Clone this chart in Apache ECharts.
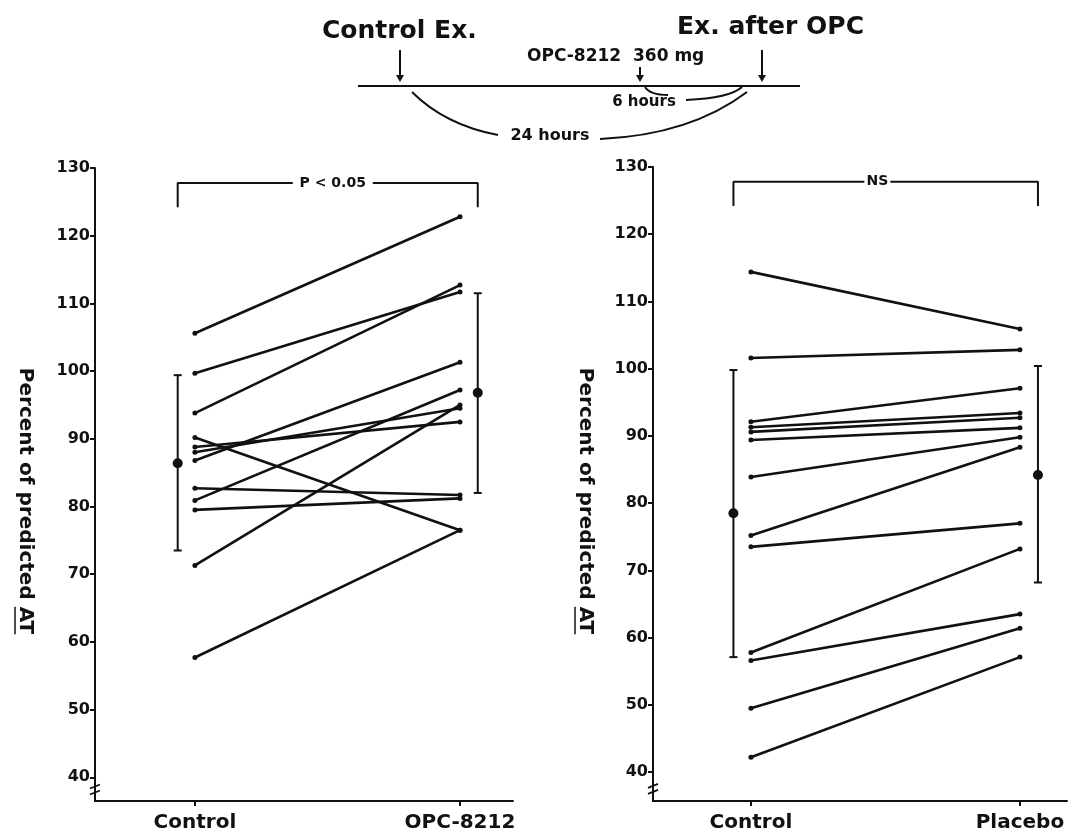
<!DOCTYPE html>
<html><head><meta charset="utf-8">
<script src="https://cdn.jsdelivr.net/npm/echarts@6/dist/echarts.min.js"></script>
<style>html,body{margin:0;padding:0;background:#fff}#chart{width:1078px;height:839px}</style>
</head><body><div id="chart"></div>
<script>
// ---------------- data ----------------
const leftCategories = ['Control', 'OPC-8212'];
const rightCategories = ['Control', 'Placebo'];
// paired subject values (percent of predicted AT)
const leftControl = [105.6, 99.7, 93.8, 90.2, 88.8, 88.0, 86.8, 82.7, 80.9, 79.5, 71.3, 57.7];
const leftOPC     = [122.8, 111.7, 112.7, 76.5, 92.5, 94.5, 101.3, 81.7, 97.2, 81.2, 95.0, 76.5];
const rightControl = [114.4, 101.6, 92.1, 91.3, 90.6, 89.4, 83.9, 75.2, 73.5, 57.8, 56.6, 49.5, 42.2];
const rightPlacebo = [105.9, 102.8, 97.1, 93.4, 92.7, 91.2, 89.8, 88.3, 77.0, 73.2, 63.5, 61.4, 57.1];
// mean, lower, upper (mean ± SD)
const leftMean  = [86.4, 96.8];
const leftLow   = [73.5, 82.0];
const leftHigh  = [99.4, 111.5];
const rightMean = [78.5, 84.2];
const rightLow  = [57.1, 68.2];
const rightHigh = [99.8, 100.4];
const yTicks = [40, 50, 60, 70, 80, 90, 100, 110, 120, 130];
const leftSignificance = 'P < 0.05';
const rightSignificance = 'NS';
const yTitle = 'Percent of predicted ';
const yTitleUnderlined = 'AT';

// ---------------- styling ----------------
const INK = '#111';
const FONT = '"DejaVu Sans", "Liberation Sans", sans-serif';
const barOffset = [-0.065, 1.067]; // horizontal shift of the mean±SD bars relative to categories
const bracketTop = 127.8, bracketFoot = 124.2;

function xAxisFor(gridIndex, cats, min, max) {
  return {
    type: 'value', gridIndex, min, max,
    axisLine: { show: true, onZero: false, lineStyle: { color: INK, width: 2 } },
    axisTick: { show: true, customValues: [0, 1], length: 5, lineStyle: { color: INK, width: 2 } },
    axisLabel: { customValues: [0, 1], formatter: v => cats[Math.round(v)], color: INK,
      fontFamily: FONT, fontWeight: 'bold', fontSize: 20, margin: 12 },
    splitLine: { show: false }
  };
}
function yAxisFor(gridIndex, min) {
  return {
    type: 'value', gridIndex, min, max: 130,
    axisLine: { show: true, onZero: false, lineStyle: { color: INK, width: 2 } },
    axisTick: { show: true, customValues: yTicks, length: 5, lineStyle: { color: INK, width: 2 } },
    axisLabel: { customValues: yTicks, color: INK, fontFamily: FONT, fontWeight: 'bold', fontSize: 16, margin: 5 },
    splitLine: { show: false }
  };
}

function pairSeries(idx, a, b) {
  return a.map((v, i) => ({
    type: 'line', xAxisIndex: idx, yAxisIndex: idx,
    data: [[0, v], [1, b[i]]],
    symbol: 'circle', symbolSize: 5, showSymbol: true,
    lineStyle: { color: INK, width: 2.6 }, itemStyle: { color: INK },
    silent: true, z: 3
  }));
}
function errorSeries(idx, mean, low, high) {
  return {
    type: 'custom', xAxisIndex: idx, yAxisIndex: idx, silent: true, z: 4,
    data: mean.map((m, i) => [barOffset[i], m, low[i], high[i]]),
    encode: { x: 0, y: [1, 2, 3] },
    renderItem(params, api) {
      const x = api.value(0);
      const pm = api.coord([x, api.value(1)]);
      const pl = api.coord([x, api.value(2)]);
      const ph = api.coord([x, api.value(3)]);
      const st = { stroke: INK, lineWidth: 2 };
      return { type: 'group', children: [
        { type: 'line', shape: { x1: ph[0], y1: ph[1], x2: pl[0], y2: pl[1] }, style: st },
        { type: 'line', shape: { x1: ph[0] - 4, y1: ph[1], x2: ph[0] + 4, y2: ph[1] }, style: st },
        { type: 'line', shape: { x1: pl[0] - 4, y1: pl[1], x2: pl[0] + 4, y2: pl[1] }, style: st },
        { type: 'circle', shape: { cx: pm[0], cy: pm[1], r: 5 }, style: { fill: INK } }
      ]};
    }
  };
}
function bracketSeries(idx, label, labelX) {
  return [{
    type: 'line', xAxisIndex: idx, yAxisIndex: idx, silent: true, symbol: 'none', z: 2,
    data: [[barOffset[0], bracketFoot], [barOffset[0], bracketTop], [barOffset[1], bracketTop], [barOffset[1], bracketFoot]],
    lineStyle: { color: INK, width: 2 }
  }, {
    type: 'scatter', xAxisIndex: idx, yAxisIndex: idx, silent: true, z: 5,
    data: [[labelX, bracketTop]], symbol: 'rect', symbolSize: [label.length * 9 + 8, 14],
    itemStyle: { color: '#fff', opacity: 1 },
    label: { show: true, position: 'inside', formatter: label, color: INK, fontFamily: FONT,
      fontWeight: 'bold', fontSize: 14, textBorderWidth: 0, opacity: 1 }
  }];
}

const chart = echarts.init(document.getElementById('chart'), null, { renderer: 'canvas' });

const option = {
  backgroundColor: '#fff',
  animation: false,
  grid: [
    { left: 95, right: 565, top: 168, bottom: 38 },
    { left: 653, right: 11, top: 167, bottom: 38 }
  ],
  xAxis: [xAxisFor(0, leftCategories, -0.377, 1.2), xAxisFor(1, rightCategories, -0.364, 1.175)],
  yAxis: [yAxisFor(0, 36.5), yAxisFor(1, 35.7)],
  series: [
    ...pairSeries(0, leftControl, leftOPC),
    ...pairSeries(1, rightControl, rightPlacebo),
    errorSeries(0, leftMean, leftLow, leftHigh),
    errorSeries(1, rightMean, rightLow, rightHigh),
    ...bracketSeries(0, leftSignificance, 0.52),
    ...bracketSeries(1, rightSignificance, 0.47)
  ]
};
chart.setOption(option);

// ---------- annotations: axis titles, axis breaks, protocol diagram ----------
const ctx = document.createElement('canvas').getContext('2d');
const titleFont = 'bold 20px ' + FONT;
ctx.font = titleFont;
const wFull = ctx.measureText(yTitle + yTitleUnderlined).width;
const wU = ctx.measureText(yTitleUnderlined).width;

function yTitleGroup(cx, cy) {
  return { type: 'group', x: cx, y: cy, rotation: -Math.PI / 2, children: [
    { type: 'text', style: { text: yTitle + yTitleUnderlined, font: titleFont, fill: INK, align: 'center', verticalAlign: 'middle' } },
    { type: 'line', shape: { x1: wFull / 2 - wU, y1: 10, x2: wFull / 2, y2: 10 }, style: { stroke: INK, lineWidth: 1.5 } }
  ]};
}
function breakGlyph(gridIndex, xMin, yVal) {
  const p = chart.convertToPixel({ gridIndex }, [xMin, yVal]);
  const x = p[0], y = p[1];
  return { type: 'group', children: [
    { type: 'rect', shape: { x: x - 3, y: y - 3, width: 6, height: 6 }, style: { fill: '#fff' } },
    { type: 'line', shape: { x1: x - 5, y1: y - 1, x2: x + 5, y2: y - 5 }, style: { stroke: INK, lineWidth: 1.8 } },
    { type: 'line', shape: { x1: x - 5, y1: y + 5, x2: x + 5, y2: y + 1 }, style: { stroke: INK, lineWidth: 1.8 } }
  ]};
}
function arrow(x, y1, y2) {
  return { type: 'group', children: [
    { type: 'line', shape: { x1: x, y1, x2: x, y2: y2 - 5 }, style: { stroke: INK, lineWidth: 2 } },
    { type: 'polygon', shape: { points: [[x - 4, y2 - 7], [x + 4, y2 - 7], [x, y2]] }, style: { fill: INK } }
  ]};
}
const lbl = (text, x, y, size, align) => ({ type: 'text', x, y, style: { text, font: 'bold ' + size + 'px ' + FONT, fill: INK, align: align || 'left', verticalAlign: 'middle' } });
const curve = (x1, y1, cpx1, cpy1, x2, y2) => ({ type: 'bezierCurve', shape: { x1, y1, cpx1, cpy1, x2, y2 }, style: { stroke: INK, lineWidth: 2, fill: null } });

chart.setOption({
  graphic: [
    yTitleGroup(25, 501),
    yTitleGroup(585, 501),
    breakGlyph(0, -0.377, 38.2),
    breakGlyph(1, -0.364, 37.5),
    lbl('Control Ex.', 322, 31, 25),
    lbl('Ex. after OPC', 677, 27, 25),
    lbl('OPC-8212  360 mg', 527, 57, 17),
    { type: 'line', shape: { x1: 358, y1: 86, x2: 800, y2: 86 }, style: { stroke: INK, lineWidth: 2 } },
    arrow(400, 50, 82),
    arrow(640, 67, 82),
    arrow(762, 50, 82),
    curve(645, 87, 650, 95, 668, 95),
    curve(686, 100, 730, 98, 742, 87),
    lbl('6 hours', 644, 102, 15, 'center'),
    curve(412, 92, 445, 125, 498, 135),
    curve(600, 139, 690, 135, 747, 92),
    lbl('24 hours', 550, 136, 16, 'center')
  ]
});
</script></body></html>
